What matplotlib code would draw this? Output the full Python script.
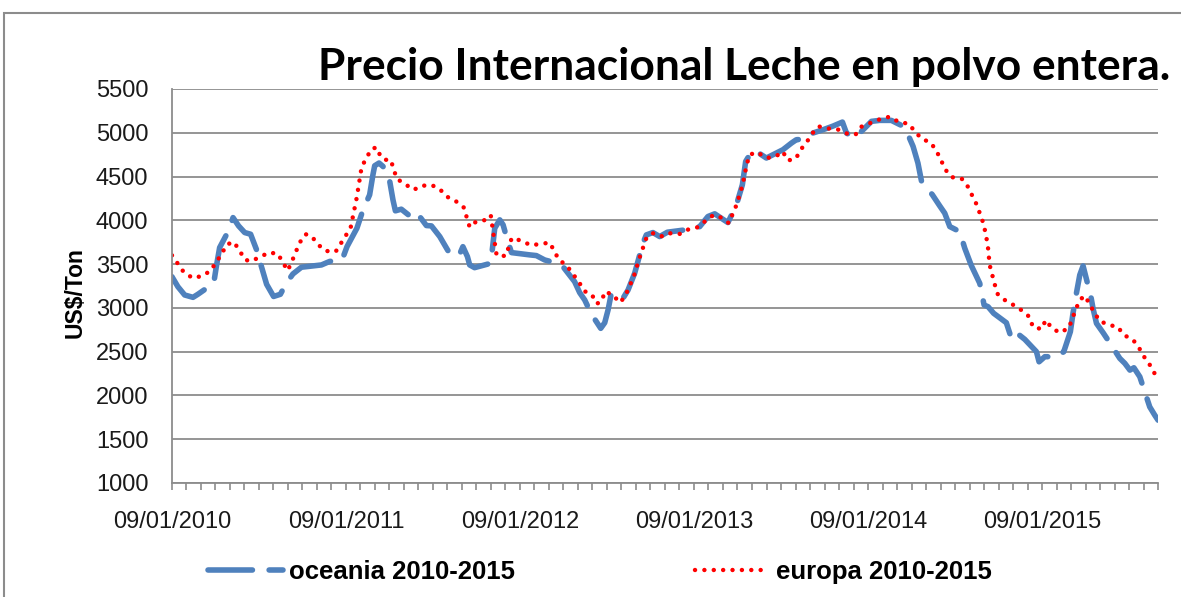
import numpy as np
import matplotlib.pyplot as plt
from matplotlib.patches import Rectangle

plt.rcParams['font.family'] = ['Liberation Sans', 'DejaVu Sans']

# tiempo en años desde el 09/01/2010
t_oceania = [0.000, 0.034, 0.073, 0.121, 0.149, 0.240, 0.255, 0.274, 0.328, 0.351,
             0.383, 0.418, 0.452, 0.485, 0.514, 0.544, 0.584, 0.623, 0.657, 0.695,
             0.744, 0.859, 0.906, 0.979, 1.006, 1.063, 1.098, 1.136, 1.155, 1.165,
             1.190, 1.213, 1.232, 1.251, 1.270, 1.284, 1.318, 1.366, 1.405, 1.462,
             1.491, 1.539, 1.586, 1.649, 1.672, 1.698, 1.711, 1.739, 1.832, 1.845,
             1.855, 1.884, 1.903, 1.922, 1.951, 2.056, 2.094, 2.142, 2.199, 2.247,
             2.314, 2.343, 2.372, 2.410, 2.464, 2.487, 2.506, 2.525, 2.592, 2.621,
             2.659, 2.707, 2.726, 2.764, 2.803, 2.847, 2.947, 3.033, 3.080, 3.119,
             3.195, 3.244, 3.278, 3.297, 3.320, 3.349, 3.416, 3.511, 3.560, 3.588,
             3.636, 3.684, 3.741, 3.799, 3.853, 3.876, 3.914, 3.943, 4.020, 4.067,
             4.134, 4.211, 4.259, 4.287, 4.307, 4.370, 4.412, 4.441, 4.470, 4.527,
             4.556, 4.594, 4.642, 4.667, 4.690, 4.722, 4.795, 4.824, 4.853, 4.901,
             4.968, 4.983, 5.016, 5.083, 5.125, 5.163, 5.178, 5.194, 5.217, 5.236,
             5.259, 5.274, 5.293, 5.313, 5.351, 5.379, 5.447, 5.476, 5.505, 5.528,
             5.562, 5.600, 5.619, 5.648, 5.667]
oceania = [3356, 3242, 3147, 3120, 3155, 3281, 3471, 3688, 3891, 4031,
           3936, 3860, 3841, 3670, 3471, 3269, 3130, 3155, 3281, 3387,
           3464, 3490, 3530, 3555, 3699, 3910, 4119, 4291, 4520, 4623,
           4654, 4615, 4539, 4451, 4234, 4108, 4127, 4051, 4093, 3940,
           3936, 3814, 3654, 3593, 3699, 3585, 3490, 3459, 3509, 3741,
           3910, 4005, 3948, 3814, 3631, 3605, 3597, 3547, 3517, 3471,
           3299, 3174, 3090, 2930, 2766, 2830, 2975, 3166, 3109, 3204,
           3395, 3741, 3833, 3860, 3814, 3864, 3890, 3928, 4043, 4074,
           3974, 4177, 4406, 4672, 4748, 4798, 4711, 4806, 4882, 4920,
           4928, 4997, 5034, 5076, 5122, 4997, 4951, 4977, 5130, 5141,
           5141, 5065, 4844, 4653, 4451, 4291, 4165, 4081, 3928, 3871,
           3681, 3482, 3281, 3033, 3013, 2938, 2830, 2652, 2716, 2640,
           2499, 2384, 2442, 2442, 2499, 2728, 2938, 3128, 3376, 3479,
           3299, 3204, 2995, 2823, 2716, 2632, 2423, 2366, 2289, 2316,
           2213, 1984, 1869, 1774, 1717]

t_europa = [0.000, 0.067, 0.119, 0.176, 0.222, 0.286, 0.314, 0.355, 0.389, 0.418,
            0.452, 0.504, 0.556, 0.608, 0.636, 0.665, 0.688, 0.734, 0.768, 0.803,
            0.837, 0.883, 0.941, 0.998, 1.027, 1.062, 1.090, 1.119, 1.148, 1.177,
            1.200, 1.228, 1.257, 1.292, 1.343, 1.389, 1.435, 1.493, 1.539, 1.579,
            1.631, 1.677, 1.711, 1.746, 1.792, 1.832, 1.849, 1.866, 1.918, 1.953,
            2.010, 2.062, 2.119, 2.171, 2.223, 2.269, 2.338, 2.372, 2.412, 2.441,
            2.470, 2.487, 2.533, 2.573, 2.602, 2.654, 2.688, 2.728, 2.769, 2.815,
            2.849, 2.918, 2.970, 3.022, 3.068, 3.113, 3.165, 3.200, 3.246, 3.280,
            3.303, 3.320, 3.361, 3.418, 3.470, 3.510, 3.539, 3.585, 3.613, 3.648,
            3.682, 3.717, 3.768, 3.826, 3.878, 3.929, 3.964, 4.022, 4.073, 4.125,
            4.177, 4.234, 4.269, 4.309, 4.361, 4.395, 4.447, 4.481, 4.539, 4.573,
            4.625, 4.665, 4.688, 4.699, 4.728, 4.746, 4.791, 4.843, 4.889, 4.930,
            4.947, 4.998, 5.021, 5.056, 5.102, 5.154, 5.194, 5.217, 5.246, 5.303,
            5.332, 5.384, 5.435, 5.470, 5.521, 5.556, 5.585, 5.619, 5.648, 5.665]
europa = [3600, 3410, 3340, 3365, 3425, 3616, 3722, 3753, 3654, 3551,
          3532, 3578, 3631, 3619, 3524, 3425, 3524, 3745, 3841, 3818,
          3727, 3650, 3642, 3822, 3917, 4260, 4608, 4718, 4817, 4832,
          4722, 4691, 4691, 4474, 4409, 4348, 4394, 4402, 4356, 4271,
          4219, 4146, 3921, 3982, 3997, 4059, 3822, 3597, 3593, 3799,
          3765, 3715, 3730, 3745, 3551, 3482, 3296, 3189, 3155, 3047,
          3075, 3185, 3151, 3059, 3124, 3357, 3578, 3807, 3856, 3818,
          3853, 3845, 3898, 3921, 3997, 4062, 4024, 3967, 4184, 4409,
          4637, 4748, 4779, 4711, 4729, 4786, 4683, 4703, 4806, 4894,
          4997, 5072, 5049, 5038, 4992, 4981, 5072, 5118, 5157, 5183,
          5122, 5103, 5015, 4931, 4886, 4786, 4573, 4493, 4474, 4386,
          4177, 3955, 3722, 3490, 3269, 3155, 3082, 3025, 2964, 2892,
          2781, 2758, 2861, 2770, 2716, 2770, 2983, 3090, 3139, 2938,
          2850, 2804, 2784, 2689, 2640, 2549, 2446, 2350, 2247, 2200]

etiquetas_x = ["09/01/2010", "09/01/2011", "09/01/2012", "09/01/2013", "09/01/2014", "09/01/2015"]

gris = '#8c8c8c'

fig = plt.figure(figsize=(11.81, 5.97), dpi=100)
ax = fig.add_axes([0.1456, 0.191, 0.835, 0.660])

l1, = ax.plot(t_oceania, oceania, color='#4F81BD', lw=4, linestyle=(0, (8, 3)),
              dash_capstyle='round', solid_joinstyle='round', label='oceania 2010-2015')
l2, = ax.plot(t_europa, europa, color='#FF0000', lw=3.2, linestyle=(0, (0.01, 2.1)),
              dash_capstyle='round', label='europa 2010-2015')

ax.set_ylim(1000, 5500)
ax.set_yticks(np.arange(1000, 5501, 500))
ax.set_xlim(0, 5.667)
ax.set_xticks(range(len(etiquetas_x)))
ax.set_xticklabels(etiquetas_x)
ax.set_xticks(np.arange(0, 5.667, 1 / 12), minor=True)

ax.grid(axis='y', color=gris, lw=1.3)
ax.set_axisbelow(True)
for s in ['top', 'right']:
    ax.spines[s].set_visible(False)
for s in ['left', 'bottom']:
    ax.spines[s].set_color(gris)
    ax.spines[s].set_linewidth(1.3)

ax.tick_params(axis='y', length=0, pad=17, labelsize=17, labelcolor='#1a1a1a')
ax.tick_params(axis='x', which='both', length=5, color=gris, width=1.2, direction='out')
ax.tick_params(axis='x', pad=15, labelsize=17, labelcolor='#1a1a1a')

fig.text(75 / 1181, 1 - 293 / 597, 'US$/Ton', rotation=90, ha='center', va='center',
         fontsize=16.5, fontweight='bold')

# titulo: ajustar el tamaño para que ocupe el mismo ancho que el original
titulo = fig.text(1170 / 1181, 1 - 80 / 597, 'Precio Internacional Leche en polvo entera.',
                  ha='right', va='baseline', fontsize=32, fontweight='bold',
                  family=['Lato', 'DejaVu Sans'])
fig.canvas.draw()
ancho = titulo.get_window_extent().width
titulo.set_fontsize(32 * 852 / ancho)

fig.legend(handles=[l1, l2], loc='center', bbox_to_anchor=(0.508, 1 - 572 / 597), ncol=2,
           frameon=False, prop={'weight': 'bold', 'size': 18.5}, handlelength=2.9,
           handletextpad=0.25, columnspacing=7.0)

fig.patches.append(Rectangle((4 / 1181, -0.05), 1.2, 1 - 13 / 597 + 0.05, fill=False,
                             edgecolor=gris, lw=1.5, transform=fig.transFigure))

plt.savefig('out.png', dpi=100)
